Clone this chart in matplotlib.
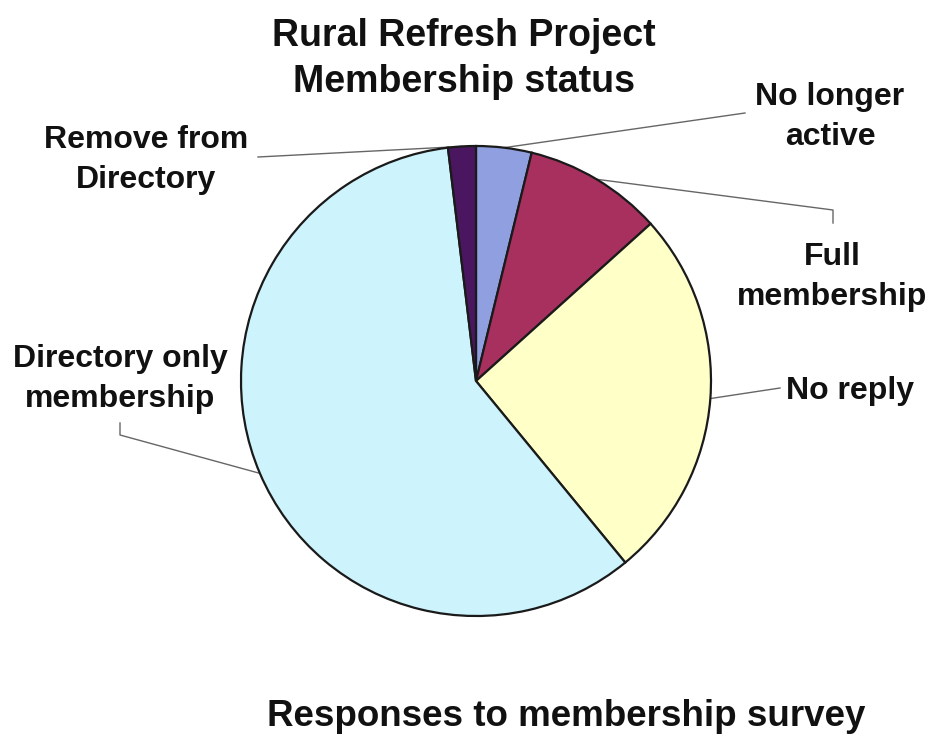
import matplotlib.pyplot as plt
import numpy as np

plt.rcParams["font.family"] = ["Liberation Sans", "DejaVu Sans"]

labels = ["No longer\nactive", "Full\nmembership", "No reply",
          "Directory only\nmembership", "Remove from\nDirectory"]
counts = [4, 10, 27, 62, 2]
colors = ["#8f9fe0", "#a8305f", "#ffffc8", "#cdf3fc", "#4a1660"]

# label text centres and leader-line end points, in pixels
label_pos = [(830, 117), (832, 277), (850, 391), (120, 379), (146, 160)]
leader_ends = [[(745, 113)], [(833, 210), (833, 223)], [(780, 388)],
               [(120, 435), (120, 423)], [(258, 157)]]

fig = plt.figure(figsize=(9.34, 7.35), dpi=100)
ax = fig.add_axes([0, 0, 1, 1])

cx, cy, r = 476, 381, 235
# y axis is flipped, so counterclock=True draws clockwise on screen
wedges, _ = ax.pie(counts, colors=colors, startangle=-90, counterclock=True,
                   center=(cx, cy), radius=r, frame=True,
                   wedgeprops=dict(edgecolor="#1a1a1a", linewidth=1.6))
ax.set_xlim(0, 934)
ax.set_ylim(735, 0)
ax.set_aspect("equal")
ax.axis("off")

frac = np.cumsum([0] + counts) / sum(counts)
for i, lab in enumerate(labels):
    mid = (frac[i] + frac[i + 1]) / 2
    ang = np.pi / 2 - 2 * np.pi * mid
    x0, y0 = cx + r * np.cos(ang), cy - r * np.sin(ang)
    xs = [x0] + [p[0] for p in leader_ends[i]]
    ys = [y0] + [p[1] for p in leader_ends[i]]
    ax.plot(xs, ys, color="#666666", lw=1.0, zorder=0)
    ax.text(*label_pos[i], lab, ha="center", va="center", fontsize=23,
            fontweight="bold", color="#111111", linespacing=1.4)

ax.text(464, 59, "Rural Refresh Project\nMembership status", ha="center",
        va="center", fontsize=27, fontweight="bold", color="#111111",
        linespacing=1.36)
ax.text(566, 716, "Responses to membership survey", ha="center", va="center",
        fontsize=26.5, fontweight="bold", color="#111111")

fig.savefig("out.png", dpi=100)
